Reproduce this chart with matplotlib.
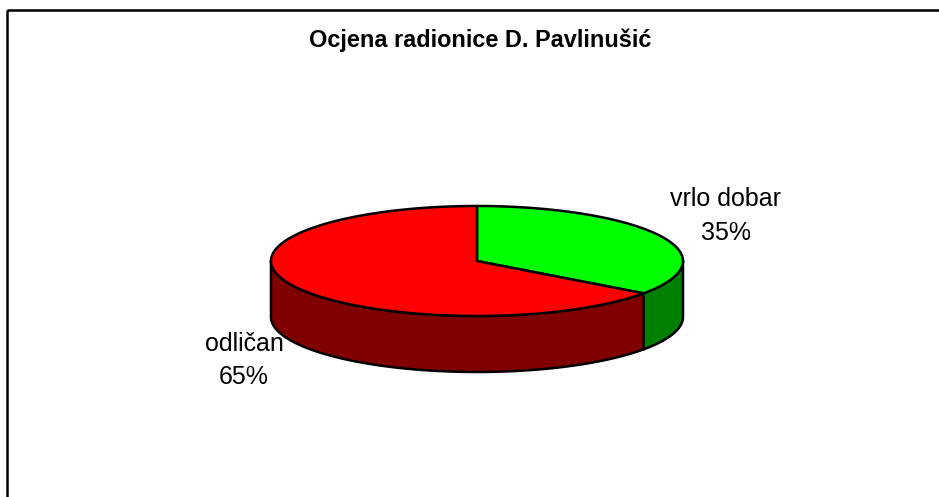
import numpy as np
import matplotlib
matplotlib.use("Agg")
import matplotlib.pyplot as plt
from matplotlib.patches import Polygon, Rectangle

title = "Ocjena radionice D. Pavlinušić"
categories = ["vrlo dobar", "odličan"]
shares = [35, 65]
top_colors = ["#00ff00", "#ff0000"]
side_colors = ["#008000", "#800000"]

W, H = 939, 497
fig = plt.figure(figsize=(W / 100, H / 100), dpi=100, facecolor="white")
ax = fig.add_axes([0, 0, 1, 1])
ax.set_xlim(0, W)
ax.set_ylim(H, 0)
ax.axis("off")
plt.rcParams["font.family"] = ["Liberation Sans", "DejaVu Sans"]

# outer frame
ax.add_patch(Rectangle((7, 10), 1100, 600, fill=False, ec="black", lw=1.8, clip_on=True))

cx, cy, rx, ry, depth = 477, 261, 206, 55, 56


def pt(theta):
    # theta clockwise from 12 o'clock
    return cx + rx * np.sin(theta), cy - ry * np.cos(theta)


fracs = np.array(shares) / sum(shares)
edges = np.concatenate([[0], np.cumsum(fracs)]) * 2 * np.pi

# walls (only the front half is visible)
for i in range(len(shares)):
    lo = max(edges[i], np.pi / 2)
    hi = min(edges[i + 1], 3 * np.pi / 2)
    if hi > lo:
        t = np.linspace(lo, hi, 120)
        x, y = pt(t)
        pts = np.r_[np.c_[x, y], np.c_[x[::-1], y[::-1] + depth]]
        ax.add_patch(Polygon(pts, fc=side_colors[i], ec="black", lw=1.8, joinstyle="round"))

# top faces
for i in range(len(shares)):
    t = np.linspace(edges[i], edges[i + 1], 240)
    x, y = pt(t)
    pts = np.r_[[[cx, cy]], np.c_[x, y]]
    ax.add_patch(Polygon(pts, fc=top_colors[i], ec="black", lw=1.8, joinstyle="round"))

ax.text(480.5, 47.5, title, ha="center", va="baseline", fontsize=16.9, fontweight="bold", color="black")
ax.text(726, 205.5, categories[0], ha="center", va="baseline", fontsize=18, color="black")
ax.text(726, 240, f"{shares[0]}%", ha="center", va="baseline", fontsize=18, color="black")
ax.text(244, 351, categories[1], ha="center", va="baseline", fontsize=18, color="black")
ax.text(244, 384.5, f"{shares[1]}%", ha="center", va="baseline", fontsize=18, color="black")

fig.savefig("out.png", dpi=100, facecolor="white")
